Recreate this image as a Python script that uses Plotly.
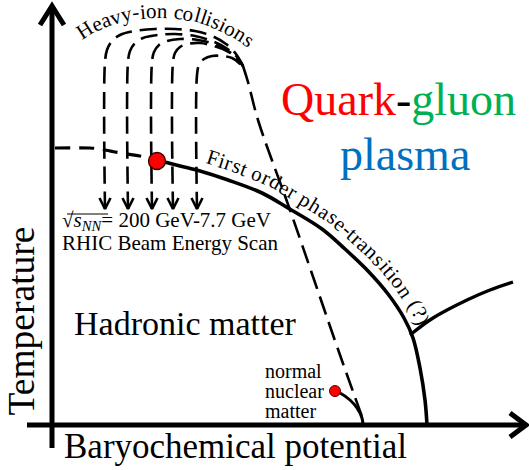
import numpy as np
import plotly.graph_objects as go

# ---------------- diagram data (pixel units of the picture, y pointing down) ----------------
T_AXIS_X = [52, 52]
T_AXIS_Y = [448, 6]
MU_AXIS_X = [27, 526]
MU_AXIS_Y = [425, 425]

TRANSITION_X = [157, 180, 200, 228, 262, 288, 322, 345, 368, 388, 404, 413, 420, 425, 427]
TRANSITION_Y = [160, 166, 171, 180, 193, 208, 229, 249, 271, 294, 318, 338, 368, 400, 425]

CROSSOVER_X = [55, 90, 100, 115, 140, 157]
CROSSOVER_Y = [148, 148, 149, 152, 156, 160]

BRANCH_X = [410, 433, 467, 490, 513]
BRANCH_Y = [335, 318, 300, 290, 282]

NUCLEAR_X = [335, 340, 350, 357, 362, 363]
NUCLEAR_Y = [391, 393, 400, 408, 418, 425]

FREEZE_X = [243, 248, 258, 290, 340, 365]
FREEZE_Y = [66, 82, 120, 210, 355, 425]

TRAJ1_X = [105, 105, 107, 112, 120, 135, 155, 175, 195, 212, 226, 236, 243]
TRAJ1_Y = [209, 62, 50, 41, 35, 31, 29, 29, 31, 36, 44, 54, 66]
TRAJ2_X = [128, 128, 130, 135, 143, 158, 175, 195, 212, 226, 237, 243]
TRAJ2_Y = [209, 62, 51, 43, 38, 35, 34, 36, 41, 48, 57, 66]
TRAJ3_X = [152, 152, 154, 159, 167, 180, 198, 214, 228, 238, 243]
TRAJ3_Y = [209, 62, 52, 45, 41, 39, 40, 44, 51, 59, 66]
TRAJ4_X = [173, 173, 175, 180, 188, 200, 214, 227, 237, 243]
TRAJ4_Y = [209, 62, 53, 47, 44, 43, 46, 51, 58, 66]
TRAJ5_X = [197, 197, 199, 204, 212, 222, 232, 239, 243]
TRAJ5_Y = [209, 75, 65, 59, 56, 56, 58, 63, 68]

CRITICAL_POINT = ([157], [161])
NUCLEAR_POINT = ([335], [391])

HEAVY_LABEL = "Heavy-ion collisions"
HEAVY_BASE_X = [78, 95, 115, 135, 155, 175, 195, 215, 235, 252]
HEAVY_BASE_Y = [43, 32, 24, 19.5, 18, 18.5, 22, 29, 39, 51]
TRANS_LABEL = "First order phase-transition (?)"

W, H = 529, 470
SERIF = "Liberation Serif, Tinos, Times New Roman, Times, DejaVu Serif, serif"

# Times / Liberation Serif advance widths (1/1000 em)
ADV = {' ': 250, '(': 333, ')': 333, '-': 333, '?': 444, 'F': 556, 'H': 722,
       'a': 444, 'c': 444, 'd': 500, 'e': 444, 'h': 500, 'i': 278, 'l': 278,
       'n': 500, 'o': 500, 'p': 500, 'r': 333, 's': 389, 't': 278, 'v': 500, 'y': 500}

fig = go.Figure()


def line(xs, ys, width, dash="solid", shape="spline", color="black"):
    fig.add_trace(go.Scatter(x=xs, y=ys, mode="lines", hoverinfo="skip",
                             line=dict(color=color, width=width, dash=dash, shape=shape)))


# axes
line(T_AXIS_X, T_AXIS_Y, 5, shape="linear")
line(MU_AXIS_X, MU_AXIS_Y, 5, shape="linear")
tx, ty = T_AXIS_X[1], T_AXIS_Y[1]
line([tx - 12, tx, tx + 12], [ty + 19, ty, ty + 19], 5, shape="linear")
mx, my = MU_AXIS_X[1], MU_AXIS_Y[1]
line([mx - 16, mx, mx - 16], [my - 12, my, my + 12], 5, shape="linear")

# trajectories
trajs = [(TRAJ1_X, TRAJ1_Y), (TRAJ2_X, TRAJ2_Y), (TRAJ3_X, TRAJ3_Y),
         (TRAJ4_X, TRAJ4_Y), (TRAJ5_X, TRAJ5_Y)]
for xs, ys in trajs:
    line(xs, ys, 2.6, dash="17px,8px")
ax, ay = [], []
for xs, ys in trajs:
    ax += [xs[0] - 5.5, xs[0], xs[0] + 5.5, None]
    ay += [ys[0] - 11, ys[0], ys[0] - 11, None]
line(ax, ay, 2.6, shape="linear")
line(FREEZE_X, FREEZE_Y, 2.6, dash="19px,8px")

# phase lines
line(CROSSOVER_X, CROSSOVER_Y, 3.2, dash="15px,9px")
line(TRANSITION_X, TRANSITION_Y, 3.6)
line(BRANCH_X, BRANCH_Y, 3.4)
line(NUCLEAR_X, NUCLEAR_Y, 3)

fig.add_trace(go.Scatter(x=CRITICAL_POINT[0], y=CRITICAL_POINT[1], mode="markers", hoverinfo="skip",
                         marker=dict(size=17, color="#ff0000", line=dict(color="#300000", width=1.3))))
fig.add_trace(go.Scatter(x=NUCLEAR_POINT[0], y=NUCLEAR_POINT[1], mode="markers", hoverinfo="skip",
                         marker=dict(size=11, color="#ff0000", line=dict(color="#600000", width=1))))

annotations = []


def text(t, x, baseline, fs, xanchor="left", color="black", angle=0, up=(0, -1)):
    annotations.append(dict(text=t, x=x + up[0] * 0.34 * fs, y=baseline + up[1] * 0.34 * fs,
                            xref="x", yref="y", showarrow=False, xanchor=xanchor, yanchor="middle",
                            textangle=angle, font=dict(family=SERIF, size=fs, color=color)))


# ---- text along a path ----
def resample(px, py, n=600):
    px, py = np.asarray(px, float), np.asarray(py, float)
    seg = np.hypot(np.diff(px), np.diff(py))
    s = np.concatenate([[0], np.cumsum(seg)])
    ss = np.linspace(0, s[-1], n)
    return np.interp(ss, s, px), np.interp(ss, s, py), ss


def offset(px, py, d):
    x, y, s = resample(px, py)
    dx, dy = np.gradient(x), np.gradient(y)
    th = np.arctan2(dy, dx)
    return x + d * np.sin(th), y - d * np.cos(th)


def text_on_path(label, px, py, x_start, x_end, fs):
    x, y, s = resample(px, py, 1200)
    s0 = np.interp(x_start, x, s)
    s1 = np.interp(x_end, x, s)
    widths = np.array([ADV[c] for c in label]) * fs / 1000.0
    k = (s1 - s0) / widths.sum()
    cum = np.concatenate([[0], np.cumsum(widths)[:-1]])
    for c, c0, w in zip(label, cum, widths):
        if c == ' ':
            continue
        sc = s0 + k * (c0 + w / 2)
        xc, yc = np.interp(sc, s, x), np.interp(sc, s, y)
        xa, ya = np.interp(sc - 8, s, x), np.interp(sc - 8, s, y)
        xb, yb = np.interp(sc + 8, s, x), np.interp(sc + 8, s, y)
        th = np.arctan2(yb - ya, xb - xa)
        up = (np.sin(th), -np.cos(th))
        text(c, xc, yc, fs, xanchor="center", angle=float(np.degrees(th)), up=up)


text_on_path(HEAVY_LABEL, HEAVY_BASE_X, HEAVY_BASE_Y, 82, 248, 21)
bx, by = offset(TRANSITION_X, TRANSITION_Y, 9)
text_on_path(TRANS_LABEL, bx, by, 205, 418, 21)

# labels
text('<span style="color:#ff0000">Quark</span>-<span style="color:#00b050">gluon</span>',
     398, 115, 46, xanchor="center")
text("plasma", 405, 170, 46, xanchor="center", color="#0070c0")
text("√<i>s</i><sub><i>NN</i></sub>= 200 GeV-7.7 GeV", 60, 228, 21)
line([67, 108], [214, 214], 1.2, shape="linear")
text("RHIC Beam Energy Scan", 60, 250, 21)
text("Hadronic matter", 72, 335, 34)
text("normal", 263, 378, 20)
text("nuclear", 263, 398, 20)
text("matter", 263, 418, 20)
text("Baryochemical potential", 62, 458, 35)
annotations.append(dict(text="Temperature", x=20.5, y=321, xref="x", yref="y", showarrow=False,
                        xanchor="center", yanchor="middle", textangle=-90,
                        font=dict(family=SERIF, size=37.5, color="black")))

fig.update_layout(width=W, height=H, margin=dict(l=0, r=0, t=0, b=0), autosize=False,
                  paper_bgcolor="white", plot_bgcolor="white", showlegend=False,
                  font=dict(family=SERIF),
                  annotations=annotations,
                  xaxis=dict(range=[0, W], visible=False, fixedrange=True),
                  yaxis=dict(range=[H, 0], visible=False, fixedrange=True))
fig.write_html("out.html", config={"displayModeBar": False},
               post_script="document.body.style.margin='0';document.body.style.overflow='hidden';")
